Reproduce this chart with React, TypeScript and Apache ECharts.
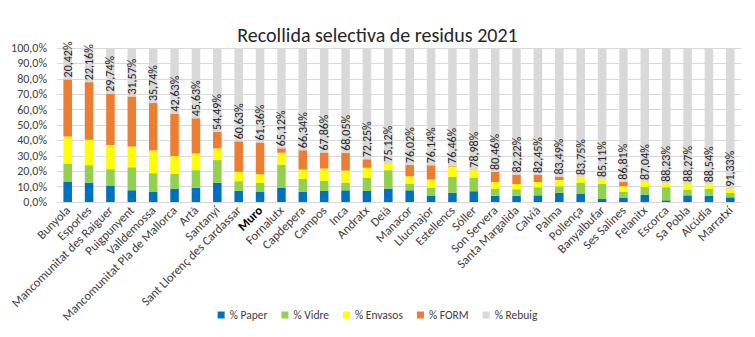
import React, { useEffect, useRef } from "react";
import * as echarts from "echarts";

const categories = [
  "Bunyola", "Esporles", "Mancomunitat des Raiguer", "Puigpunyent", "Valldemossa",
  "Mancomunitat Pla de Mallorca", "Artà", "Santanyí", "Sant Llorenç des Cardassar", "Muro",
  "Fornalutx", "Capdepera", "Campos", "Inca", "Andratx", "Deià", "Manacor", "Llucmajor",
  "Estellencs", "Sóller", "Son Servera", "Santa Margalida", "Calvià", "Palma", "Pollença",
  "Banyalbufar", "Ses Salines", "Felanitx", "Escorca", "Sa Pobla", "Alcúdia", "Marratxí",
];

const paper = [13.0, 12.6, 10.7, 7.6, 6.5, 8.7, 9.3, 12.4, 7.2, 6.5, 9.1, 6.5, 7.2, 7.6, 7.2, 8.7, 7.6, 3.9, 5.9, 7.0, 4.1, 4.1, 4.3, 5.9, 5.2, 2.0, 2.6, 4.6, 1.1, 4.3, 4.1, 3.0];
const vidre = [11.6, 11.3, 10.6, 15.0, 12.2, 9.6, 11.4, 14.8, 6.3, 5.9, 15.2, 8.5, 6.5, 5.0, 8.7, 12.0, 4.4, 5.2, 10.4, 8.7, 4.6, 4.2, 5.3, 4.3, 7.4, 9.7, 3.9, 5.2, 8.5, 3.7, 4.4, 2.9];
const envasos = [18.0, 16.5, 15.7, 13.5, 14.8, 11.5, 10.8, 7.6, 6.1, 5.6, 7.7, 6.1, 8.0, 7.8, 6.3, 4.0, 4.7, 5.5, 6.7, 5.0, 4.3, 3.4, 3.4, 4.1, 3.65, 3.19, 3.7, 3.16, 2.17, 3.73, 2.96, 2.77];
const form = [36.98, 37.44, 33.26, 32.33, 30.76, 27.57, 22.87, 10.71, 19.77, 20.64, 2.88, 12.56, 10.44, 11.55, 5.55, 0.18, 7.28, 9.26, 0.54, 0.32, 6.54, 6.08, 4.55, 2.21, 0, 0, 2.99, 0, 0, 0, 0, 0];
const rebuig = [20.42, 22.16, 29.74, 31.57, 35.74, 42.63, 45.63, 54.49, 60.63, 61.36, 65.12, 66.34, 67.86, 68.05, 72.25, 75.12, 76.02, 76.14, 76.46, 78.98, 80.46, 82.22, 82.45, 83.49, 83.75, 85.11, 86.81, 87.04, 88.23, 88.27, 88.54, 91.33];

const seriesNames = ["% Paper", "% Vidre", "% Envasos", "% FORM", "% Rebuig"];
const seriesColors = ["#0070C0", "#92D050", "#FFFF00", "#ED7D31", "#D9D9D9"];
const boldCategory = "Muro";

const FONT = "Carlito, Calibri, Lato, sans-serif";

export default function App() {
  const ref = useRef<HTMLDivElement>(null);
  useEffect(() => {
    if (!ref.current) return;
    const chart = echarts.init(ref.current, null, { renderer: "svg" });
    const dataSets = [paper, vidre, envasos, form, rebuig];
    const series = dataSets.map((d, i) => {
      const s: any = {
        name: seriesNames[i],
        type: "bar",
        stack: "total",
        data: d,
        barWidth: "40%",
        itemStyle: { color: seriesColors[i] },
      };
      if (i === 4) {
        s.label = {
          show: true,
          position: "insideBottom",
          rotate: 90,
          align: "left",
          verticalAlign: "middle",
          distance: 2,
          fontSize: 12,
          fontFamily: FONT,
          color: "#262626",
          formatter: (p: any) => p.value.toFixed(2).replace(".", ",") + "%",
        };
      }
      return s;
    });
    chart.setOption({
      animation: false,
      textStyle: { fontFamily: FONT },
      title: {
        text: "Recollida selectiva de residus 2021",
        left: "center",
        top: 20,
        textStyle: { fontSize: 20, fontWeight: "normal", color: "#262626", fontFamily: FONT },
      },
      legend: {
        bottom: 11,
        left: "center",
        icon: "rect",
        itemWidth: 7,
        itemHeight: 7,
        itemGap: 14,
        textStyle: { fontSize: 11.5, color: "#404040", fontFamily: FONT },
        data: seriesNames,
      },
      grid: { left: 57, top: 48, width: 684, height: 154, containLabel: false },
      xAxis: {
        type: "category",
        data: categories,
        axisLine: { lineStyle: { color: "#D9D9D9" } },
        axisTick: { show: false },
        axisLabel: {
          interval: 0,
          rotate: 45,
          fontSize: 12.5,
          margin: 6,
          color: "#404040",
          fontFamily: FONT,
          formatter: (v: string) => (v === boldCategory ? "{b|" + v + "}" : v),
          rich: { b: { fontWeight: "bold", fontSize: 12.5, color: "#000", fontFamily: FONT } },
        },
      },
      yAxis: {
        type: "value",
        min: 0,
        max: 100,
        interval: 10,
        axisLine: { show: false },
        axisTick: { show: false },
        splitLine: { lineStyle: { color: "#D9D9D9" } },
        axisLabel: {
          fontSize: 12,
          margin: 10,
          color: "#404040",
          fontFamily: FONT,
          formatter: (v: number) => v.toFixed(1).replace(".", ",") + "%",
        },
      },
      series,
    });
    return () => chart.dispose();
  }, []);
  return (
    <div
      ref={ref}
      style={{ position: "fixed", left: 0, top: 0, width: 755, height: 337, background: "#fff" }}
    />
  );
}
